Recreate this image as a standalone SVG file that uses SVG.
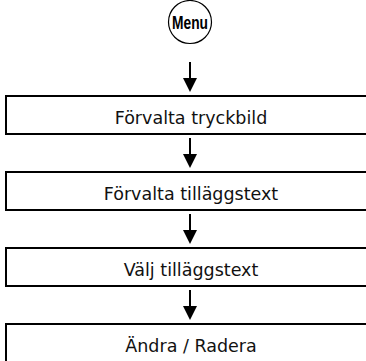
<svg xmlns="http://www.w3.org/2000/svg" width="366" height="361" viewBox="0 0 366 361">
<defs>
<style>
.box{fill:#fff;stroke:#000;stroke-width:2}
.lbl{font-family:"DejaVu Sans","Liberation Sans",sans-serif;font-size:17.5px;fill:#111;text-anchor:middle}
.menu{font-family:"Liberation Sans",Arial,sans-serif;font-size:18px;font-weight:bold;fill:#000;text-anchor:middle}
.shaft{stroke:#000;stroke-width:2;fill:none}
.head{fill:#000}
</style>
</defs>
<rect width="366" height="361" fill="#fff"/>
<g id="menu">
<circle cx="190" cy="22" r="21.5" fill="#fff" stroke="#000" stroke-width="1.2"/>
<text class="menu" x="190" y="29" textLength="36" lengthAdjust="spacingAndGlyphs">Menu</text>
</g>
<g id="n1">
<rect class="box" x="6" y="96" width="370" height="38"/>
<text class="lbl" x="191" y="124">Förvalta tryckbild</text>
</g>
<g id="n2">
<rect class="box" x="6" y="172" width="370" height="38"/>
<text class="lbl" x="191" y="200">Förvalta tilläggstext</text>
</g>
<g id="n3">
<rect class="box" x="6" y="248" width="370" height="38"/>
<text class="lbl" x="191" y="276">Välj tilläggstext</text>
</g>
<g id="n4">
<rect class="box" x="6" y="324" width="370" height="50"/>
<text class="lbl" x="191" y="352">Ändra / Radera</text>
</g>
<g id="connectors">
<line class="shaft" x1="190" y1="62" x2="190" y2="80"/>
<polygon class="head" points="183,78 197,78 190,92"/>
<line class="shaft" x1="190" y1="138" x2="190" y2="156"/>
<polygon class="head" points="183,154 197,154 190,168"/>
<line class="shaft" x1="190" y1="214" x2="190" y2="232"/>
<polygon class="head" points="183,230 197,230 190,244"/>
<line class="shaft" x1="190" y1="290" x2="190" y2="308"/>
<polygon class="head" points="183,306 197,306 190,320"/>
</g>
</svg>
